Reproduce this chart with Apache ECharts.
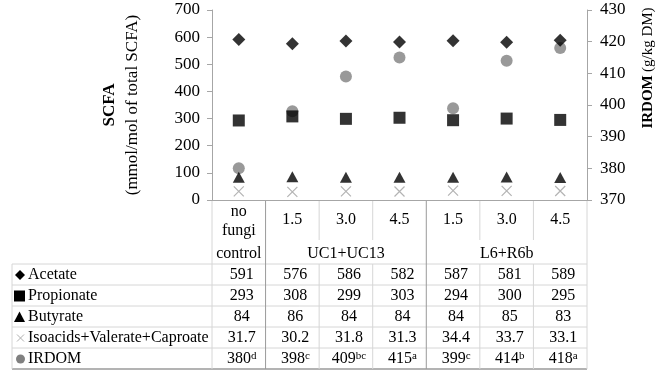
<!DOCTYPE html>
<html><head><meta charset="utf-8">
<script src="https://cdn.jsdelivr.net/npm/echarts@6/dist/echarts.min.js"></script>
<style>html,body{margin:0;padding:0;background:#fff}#c{width:659px;height:377px}</style>
</head><body><div id="c"></div>
<script>
// ---- data ----
const categories = ['no fungi control','UC1+UC13 1.5','UC1+UC13 3.0','UC1+UC13 4.5','L6+R6b 1.5','L6+R6b 3.0','L6+R6b 4.5'];
const headerTop = ['no\nfungi','1.5','3.0','4.5','1.5','3.0','4.5'];
const groupLabels = ['control','UC1+UC13','L6+R6b'];
const groupLabelCols = [0,2,5];
const seriesNames = ['Acetate','Propionate','Butyrate','Isoacids+Valerate+Caproate','IRDOM'];
const acetate = [591,576,586,582,587,581,589];
const propionate = [293,308,299,303,294,300,295];
const butyrate = [84,86,84,84,84,85,83];
const isoacids = [31.7,30.2,31.8,31.3,34.4,33.7,33.1];
const irdom = [380,398,409,415,399,414,418];
const irdomLetters = ['d','c','bc','a','c','b','a'];
const leftAxis = {min:0, max:700, interval:100};
const rightAxis = {min:370, max:430, interval:10};

// ---- chart ----
const FONT = '"Liberation Serif","Times New Roman",serif';
const chart = echarts.init(document.getElementById('c'), null, {renderer:'canvas'});
const axisGray = '#a6a6a6';
const xPath = 'path://M0,0L10,10M10,0L0,10';
chart.setOption({
  animation:false,
  backgroundColor:'#fff',
  grid:{left:212, right:72, top:10, bottom:177, containLabel:false},
  xAxis:{type:'category', data:categories, boundaryGap:true,
    axisLine:{lineStyle:{color:axisGray}}, axisTick:{show:false}, axisLabel:{show:false}},
  yAxis:[
    {type:'value', min:leftAxis.min, max:leftAxis.max, interval:leftAxis.interval,
     axisLine:{show:true, lineStyle:{color:axisGray}}, axisTick:{show:true, length:5, lineStyle:{color:axisGray}},
     splitLine:{show:false}, axisLabel:{color:'#000', fontFamily:FONT, fontSize:17, margin:12}},
    {type:'value', min:rightAxis.min, max:rightAxis.max, interval:rightAxis.interval, position:'right',
     axisLine:{show:true, lineStyle:{color:axisGray}}, axisTick:{show:true, length:5, lineStyle:{color:axisGray}},
     splitLine:{show:false}, axisLabel:{color:'#000', fontFamily:FONT, fontSize:17, margin:13}}
  ],
  series:[
    {name:seriesNames[0], type:'scatter', data:acetate, symbol:'diamond', symbolSize:[13,13], itemStyle:{color:'#000'}, z:10},
    {name:seriesNames[1], type:'scatter', data:propionate, symbol:'rect', symbolSize:12, itemStyle:{color:'#000'}, z:9},
    {name:seriesNames[2], type:'scatter', data:butyrate, symbol:'triangle', symbolSize:[12,11], itemStyle:{color:'#000'}, z:8},
    {name:seriesNames[3], type:'scatter', data:isoacids, symbol:xPath, symbolSize:10, itemStyle:{color:'rgba(0,0,0,0)', borderColor:'#a0a0a0', borderWidth:1.2}, z:7},
    {name:seriesNames[4], type:'scatter', data:irdom, yAxisIndex:1, symbol:'circle', symbolSize:12, itemStyle:{color:'#808080'}, z:6}
  ]
});

// ---- table (drawn from the data arrays) ----
const cx = categories.map((c,i)=>chart.convertToPixel({xAxisIndex:0}, i));
const colW = cx[1]-cx[0];
const bounds = [];
for (let i=0;i<=categories.length;i++) bounds.push(cx[0]-colW/2 + i*colW);
const axisY = 200, subY = 240, tTop = 264, rowH = 21, nRows = 5;
const tBottom = tTop + rowH*nRows;
const labelLeft = 12;
const light = '#d6d6d6', dark = '#9a9a9a';
const g = [];
function line(x1,y1,x2,y2,c,w){ g.push({type:'line', shape:{x1,y1,x2,y2}, style:{stroke:c, lineWidth:w||1}, silent:true}); }
function txt(x,y,t,opt){ g.push(Object.assign({type:'text', x, y, style:Object.assign({text:t, fill:'#000', font:'16px '+FONT, align:'center', verticalAlign:'middle'}, opt||{})})); }

// horizontal lines
for (let r=0;r<nRows;r++) line(labelLeft, tTop+r*rowH, bounds[7], tTop+r*rowH, light);
line(labelLeft, tBottom, bounds[7], tBottom, dark, 1.5);
line(labelLeft, tTop, labelLeft, tBottom, light);
// vertical lines
bounds.forEach((b,i)=>{
  const group = (i===1 || i===4);
  if (group) { line(b, axisY, b, tBottom, dark); }
  else if (i===0 || i===7) { line(b, axisY, b, tBottom, light); }
  else { line(b, axisY, b, subY, light); line(b, tTop, b, tBottom, light); }
});
// header
headerTop.forEach((h,i)=>{
  if (i===0) { txt(cx[i], 212, 'no'); txt(cx[i], 231, 'fungi'); }
  else txt(cx[i], 220, h);
});
groupLabels.forEach((t,k)=>txt(cx[groupLabelCols[k]], 254, t));
// rows
const rowVals = [
  acetate.map(String), propionate.map(String), butyrate.map(String),
  isoacids.map(v=>v.toFixed(1)), irdom.map((v,i)=>'{v|'+v+'}{s|'+irdomLetters[i]+'}')
];
const rowY = r => tTop + rowH*r + rowH/2 + 0.5;
seriesNames.forEach((n,r)=>{
  const y = rowY(r);
  txt(28, y, n, {align:'left'});
  rowVals[r].forEach((v,i)=>{
    if (r===4) {
      g.push({type:'text', x:cx[i]+3, y, style:{text:v, fill:'#000', align:'center', verticalAlign:'middle',
        rich:{v:{fontFamily:FONT, fontSize:16, fill:'#000'}, s:{fontFamily:FONT, fontSize:11, fill:'#000', verticalAlign:'top', padding:[0,0,6,0]}}}});
    } else txt(cx[i]+3, y, v);
  });
});
// legend keys in the label column
(function(){
  let y = rowY(0);
  g.push({type:'polygon', shape:{points:[[20,y-5],[25,y],[20,y+5],[15,y]]}, style:{fill:'#000'}});
  y = rowY(1);
  g.push({type:'rect', shape:{x:14,y:y-5.5,width:11,height:11}, style:{fill:'#000'}});
  y = rowY(2);
  g.push({type:'polygon', shape:{points:[[19.5,y-5.5],[25,y+5],[14,y+5]]}, style:{fill:'#000'}});
  y = rowY(3);
  line(17,y-3.5,24,y+3.5,'#b0b0b0'); line(24,y-3.5,17,y+3.5,'#b0b0b0');
  y = rowY(4);
  g.push({type:'circle', shape:{cx:20.5,cy:y,r:4.5}, style:{fill:'#808080'}});
})();
// axis titles
g.push({type:'text', x:110, y:105, rotation:Math.PI/2, style:{text:'SCFA', fill:'#000', font:'bold 17px '+FONT, align:'center', verticalAlign:'middle'}});
g.push({type:'text', x:133, y:105, rotation:Math.PI/2, style:{text:'(mmol/mol of total SCFA)', fill:'#000', font:'17px '+FONT, align:'center', verticalAlign:'middle'}});
g.push({type:'text', x:648, y:68, rotation:Math.PI/2, style:{text:'{b|IRDOM} {n|(g/kg DM)}', fill:'#000', align:'center', verticalAlign:'middle',
  rich:{b:{fontFamily:FONT, fontWeight:'bold', fontSize:15, fill:'#000'}, n:{fontFamily:FONT, fontSize:15, fill:'#000'}}}});
chart.setOption({graphic:g});
</script>
</body></html>
